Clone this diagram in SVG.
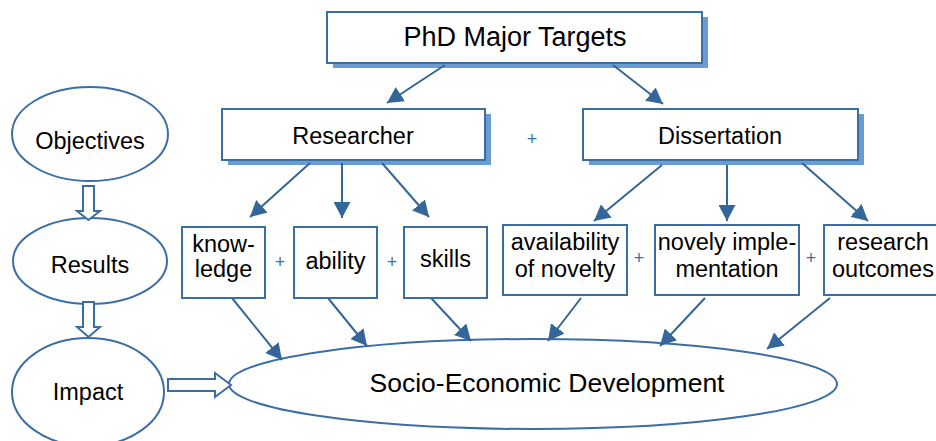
<svg xmlns="http://www.w3.org/2000/svg" width="936" height="441" viewBox="0 0 936 441">
<style>
text{font-family:"Liberation Sans",Arial,sans-serif;fill:#000;text-anchor:middle}
.box{fill:#fff;stroke:#3C6EA6;stroke-width:2}
.sh{fill:#6B9CD1}
.ell{fill:#fff;stroke:#3C6EA6;stroke-width:2}
.t{font-size:23.5px}
.plus{font-size:18px;fill:#3C6EA6}
.con line{stroke:#33669A;stroke-width:2;marker-end:url(#ah)}
.blk{fill:#fff;stroke:#3C6EA6;stroke-width:2;stroke-linejoin:miter}
</style>
<defs>
<marker id="ah" markerUnits="userSpaceOnUse" markerWidth="17" markerHeight="17" refX="16" refY="8.5" orient="auto" viewBox="0 0 17 17">
<path d="M0,0 L16,8.5 L0,17 z" fill="#33669A"/>
</marker>
</defs>
<rect width="936" height="441" fill="#fff"/>

<g id="phd">
<rect class="sh" x="333" y="17" width="375" height="51"/>
<rect class="box" x="327" y="12" width="375" height="51"/>
<text x="515" y="46" style="font-size:27px">PhD Major Targets</text>
</g>

<g id="researcher">
<rect class="sh" x="228" y="114" width="263" height="51"/>
<rect class="box" x="222" y="109" width="263" height="51"/>
<text class="t" x="353" y="144">Researcher</text>
</g>

<g id="dissertation">
<rect class="sh" x="589" y="114" width="275" height="51"/>
<rect class="box" x="583" y="109" width="275" height="51"/>
<text class="t" x="720" y="144">Dissertation</text>
</g>

<g id="knowledge">
<rect class="box" x="182" y="227" width="83" height="71"/>
<text class="t" x="223.5" y="252">know-</text>
<text class="t" x="223.5" y="277">ledge</text>
</g>

<g id="ability">
<rect class="box" x="294" y="227" width="83" height="71"/>
<text class="t" x="335.5" y="269">ability</text>
</g>

<g id="skills">
<rect class="box" x="404" y="227" width="83" height="71"/>
<text class="t" x="445.5" y="267">skills</text>
</g>

<g id="availability">
<rect class="box" x="503" y="225" width="124" height="70"/>
<text class="t" x="565" y="250">availability</text>
<text class="t" x="565" y="277">of novelty</text>
</g>

<g id="implementation">
<rect class="box" x="655" y="225" width="144" height="70"/>
<text class="t" x="727" y="250">novely imple-</text>
<text class="t" x="727" y="277">mentation</text>
</g>

<g id="outcomes">
<rect class="box" x="824" y="225" width="118" height="70"/>
<text class="t" x="883" y="250">research</text>
<text class="t" x="883" y="277">outcomes</text>
</g>

<g id="plus-signs">
<text class="plus" x="532" y="145">+</text>
<text class="plus" x="280" y="268">+</text>
<text class="plus" x="392" y="268">+</text>
<text class="plus" x="639" y="264">+</text>
<text class="plus" x="811" y="264">+</text>
</g>

<g id="objectives">
<ellipse class="ell" cx="90" cy="134" rx="78" ry="47"/>
<text class="t" x="90" y="149">Objectives</text>
</g>

<g id="results">
<ellipse class="ell" cx="90" cy="261" rx="77" ry="43"/>
<text class="t" x="90" y="273">Results</text>
</g>

<g id="impact">
<ellipse class="ell" cx="88" cy="392" rx="76" ry="54"/>
<text class="t" x="88" y="400">Impact</text>
</g>

<g id="socio">
<ellipse class="ell" cx="533" cy="384" rx="304" ry="45"/>
<text x="547" y="392" style="font-size:26.5px">Socio-Economic Development</text>
</g>

<g class="con" id="connectors">
<line x1="445" y1="65" x2="387" y2="103"/>
<line x1="613" y1="65" x2="663" y2="104"/>
<line x1="310" y1="163" x2="250" y2="217"/>
<line x1="342" y1="163" x2="342" y2="218"/>
<line x1="382" y1="163" x2="429" y2="217"/>
<line x1="662" y1="165" x2="594" y2="221"/>
<line x1="727" y1="165" x2="727" y2="221"/>
<line x1="802" y1="163" x2="868" y2="221"/>
<line x1="232" y1="298" x2="282" y2="360"/>
<line x1="328" y1="298" x2="367" y2="346"/>
<line x1="431" y1="298" x2="471" y2="341"/>
<line x1="581" y1="298" x2="548" y2="341"/>
<line x1="705" y1="298" x2="660" y2="346"/>
<line x1="830" y1="298" x2="767" y2="349"/>
<polygon class="blk" points="83,186 94,186 94,211 100,211 88.5,220 77,211 83,211"/>
<polygon class="blk" points="83,302 94,302 94,327 100,327 88.5,337 77,327 83,327"/>
<polygon class="blk" points="168,379 215,379 215,373 231,385 215,397 215,391 168,391"/>
</g>
</svg>
